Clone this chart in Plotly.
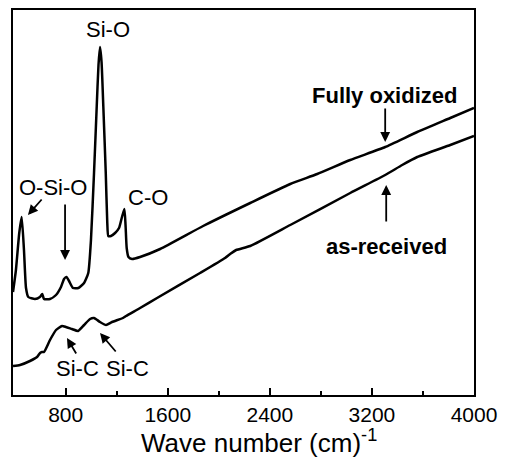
import plotly.graph_objects as go

# ---- data (wavenumber in cm^-1, intensity in arbitrary units) ----
oxidized_wn = [387, 410, 436, 455, 473, 489, 507, 559, 598, 616, 630, 677, 724, 763, 787, 806,
               826, 857, 899, 944, 977, 998, 1022, 1043, 1057, 1069, 1081, 1095, 1114, 1126,
               1134, 1155, 1187, 1218, 1239, 1260, 1269, 1278, 1292, 1320, 1383, 1540, 1877,
               2246, 2560, 2771, 3030, 3304, 3555, 3814, 4000]
oxidized_int = [103, 125, 162, 178, 145, 107, 98, 96, 98, 101, 96, 96, 100, 108, 116, 118,
                114, 107, 107, 112, 122, 155, 222, 288, 330, 348, 333, 288, 222, 172,
                159, 159, 162, 167, 177, 186, 170, 147, 138, 136, 138, 146, 169,
                192, 211, 221, 235, 248, 263, 277, 287]

received_wn = [387, 442, 520, 575, 599, 614, 630, 677, 724, 771, 802, 849, 897, 944, 991,
               1022, 1069, 1116, 1163, 1249, 1273, 1383, 1516, 1853, 2049, 2089, 2136, 2246,
               2560, 3030, 3304, 3437, 3555, 3814, 4000]
received_int = [29, 30, 34, 38, 42, 43, 43, 55, 65, 69, 68, 66, 64, 70, 76,
                77, 73, 70, 73, 77, 79, 87, 97, 122, 137, 141, 145, 149,
                170, 202, 220, 230, 238, 250, 259]

x_ticks = [800, 1600, 2400, 3200, 4000]
x_minor_ticks = [1200, 2000, 2800, 3600]

FONT = "Liberation Sans, Arial, sans-serif"

fig = go.Figure()
fig.add_trace(go.Scatter(x=oxidized_wn, y=oxidized_int, mode="lines",
                         line=dict(color="black", width=2.5, shape="spline", smoothing=0.5),
                         name="Fully oxidized", showlegend=False))
fig.add_trace(go.Scatter(x=received_wn, y=received_int, mode="lines",
                         line=dict(color="black", width=2.5, shape="spline", smoothing=0.5),
                         name="as-received", showlegend=False))

# labels: (text, x, y, bold)
labels = [
    ("Si-O", 1132, 366, False),
    ("O-Si-O", 700, 208, False),
    ("C-O", 1445, 198, False),
    ("Si-C", 889, 27, False),
    ("Si-C", 1281, 27, False),
    ("Fully oxidized", 3297, 300, True),
    ("as-received", 3312, 149, True),
]
# arrows: (tail_x, tail_y, head_x, head_y)
arrows = [
    (622, 197, 504, 180),
    (795, 192, 795, 135),
    (3304, 288, 3304, 253),
    (3312, 172, 3312, 210),
    (889, 40, 810, 57),
    (1202, 42, 1069, 62),
]

annotations = []
for text, lx, ly, bold in labels:
    annotations.append(dict(
        x=lx, y=ly, xref="x", yref="y", showarrow=False,
        text=f"<b>{text}</b>" if bold else text,
        font=dict(family=FONT, size=22, color="black"),
        xanchor="center", yanchor="middle"))
for tx, ty, hx, hy in arrows:
    annotations.append(dict(
        x=hx, y=hy, ax=tx, ay=ty, xref="x", yref="y", axref="x", ayref="y",
        text="", showarrow=True, arrowhead=2, arrowsize=1.1, arrowwidth=1.8,
        arrowcolor="black", standoff=0, startstandoff=0))

annotations.append(dict(
    x=0.534, y=-0.122, xref="paper", yref="paper", showarrow=False,
    text="Wave number (cm)<sup>-1</sup>",
    font=dict(family=FONT, size=26, color="black"),
    xanchor="center", yanchor="middle"))

# the page body has an 8px margin; size the figure so it fits the 507x468 window
fig.update_layout(
    width=491, height=452,
    margin=dict(l=5, r=25, t=2, b=65, autoexpand=False),
    paper_bgcolor="white", plot_bgcolor="white",
    font=dict(family=FONT, color="black"),
    annotations=annotations,
    xaxis=dict(range=[387, 4000], tickmode="array", tickvals=x_ticks,
               ticks="inside", ticklen=7, tickwidth=2, tickcolor="black",
               tickfont=dict(family=FONT, size=21, color="black"),
               showline=True, linewidth=2, linecolor="black", mirror=True,
               showgrid=False, zeroline=False, automargin=False,
               minor=dict(tickmode="array", tickvals=x_minor_ticks, ticks="inside",
                          ticklen=4, tickwidth=2, tickcolor="black", showgrid=False)),
    yaxis=dict(range=[0, 385], showticklabels=False, ticks="",
               showline=True, linewidth=2, linecolor="black", mirror=True,
               showgrid=False, zeroline=False, automargin=False),
)

fig.write_html("out.html")
